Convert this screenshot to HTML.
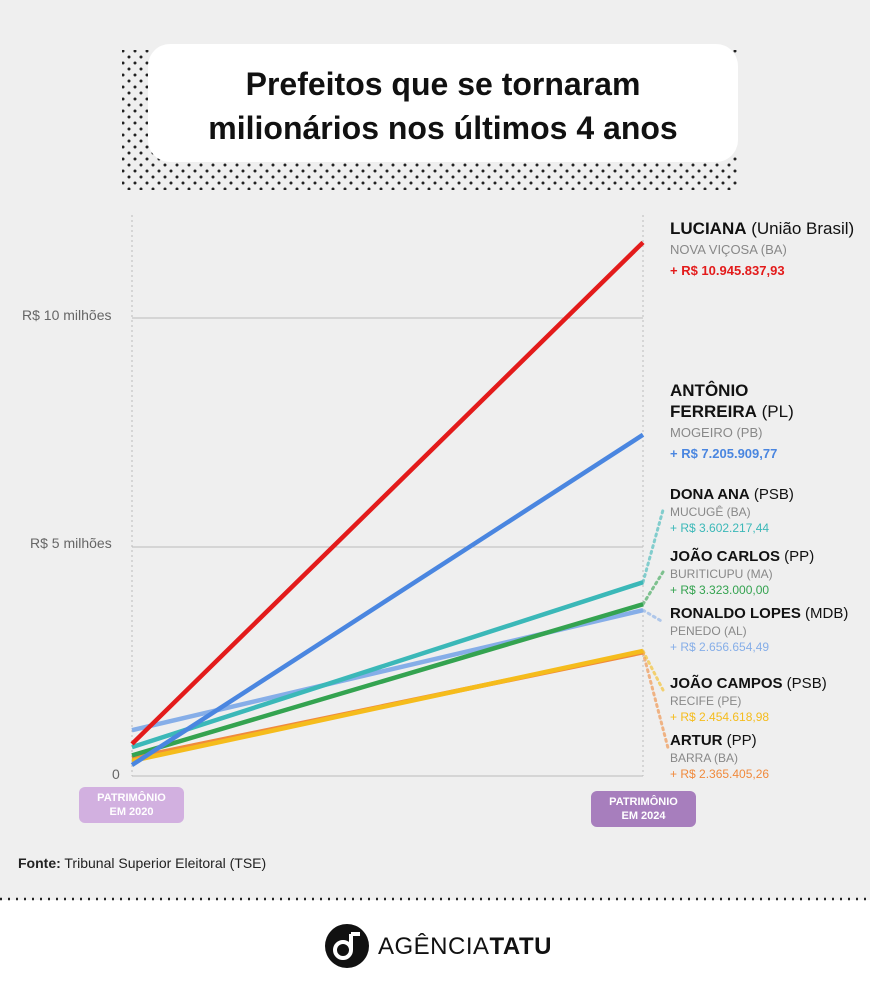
<!DOCTYPE html>
<html><head><meta charset="utf-8"><style>
body{margin:0;width:870px;height:1000px;background:#efefef;font-family:"Liberation Sans",sans-serif;overflow:hidden;position:relative}
.t{position:absolute;white-space:nowrap}
</style></head><body>
<svg width="870" height="1000" style="position:absolute;left:0;top:0">
<defs><pattern id="dots" width="12" height="12" patternUnits="userSpaceOnUse"><circle cx="3" cy="3" r="1.5" fill="#222"/><circle cx="9" cy="9" r="1.5" fill="#222"/></pattern></defs>
<rect x="122" y="50" width="615" height="140" fill="url(#dots)"/>
<rect x="148" y="44" width="590" height="118" rx="22" fill="#fff"/>
<rect x="0" y="900" width="870" height="100" fill="#fff"/>
<line x1="0" y1="899" x2="870" y2="899" stroke="#222" stroke-width="2.5" stroke-dasharray="2 6"/>
<g id="plot"></g>
<circle cx="347" cy="946" r="22" fill="#111"/>
<circle cx="343" cy="950" r="8" fill="none" stroke="#fff" stroke-width="4"/>
<path d="M351 950 V934 M351 934 H360" stroke="#fff" stroke-width="4" fill="none"/>
</svg>
<div class="t" style="left:148px;top:62px;width:590px;text-align:center;font-size:32px;font-weight:bold;line-height:44px;color:#111">Prefeitos que se tornaram<br>milionários nos últimos 4 anos</div>
<div class="t" style="left:22px;top:307px;font-size:14px;color:#666">R$ 10 milhões</div>
<div class="t" style="left:30px;top:535px;font-size:14px;color:#666">R$ 5 milhões</div>
<div class="t" style="left:112px;top:766px;font-size:14px;color:#666">0</div>
<div class="t" style="left:79px;top:787px;width:105px;height:36px;background:#d2b0e0;border-radius:6px;color:#fff;font-size:11px;font-weight:bold;text-align:center;line-height:14px;padding-top:4px;box-sizing:border-box">PATRIMÔNIO<br>EM 2020</div>
<div class="t" style="left:591px;top:791px;width:105px;height:36px;background:#a77ebd;border-radius:6px;color:#fff;font-size:11px;font-weight:bold;text-align:center;line-height:14px;padding-top:4px;box-sizing:border-box">PATRIMÔNIO<br>EM 2024</div>
<div class="t" style="left:18px;top:855px;font-size:14px;color:#222"><b>Fonte:</b> Tribunal Superior Eleitoral (TSE)</div>
<div class="t" style="left:378px;top:933px;font-size:24px;color:#111;letter-spacing:0.5px">AGÊNCIA<b>TATU</b></div>
<div id="labels"></div>
<script>
const names=["LUCIANA","ANTÔNIO<br>FERREIRA","DONA ANA","JOÃO CARLOS","RONALDO LOPES","JOÃO CAMPOS","ARTUR"];
const parties=["(União Brasil)","(PL)","(PSB)","(PP)","(MDB)","(PSB)","(PP)"];
const cities=["NOVA VIÇOSA (BA)","MOGEIRO (PB)","MUCUGÊ (BA)","BURITICUPU (MA)","PENEDO (AL)","RECIFE (PE)","BARRA (BA)"];
const gains=["+ R$ 10.945.837,93","+ R$ 7.205.909,77","+ R$ 3.602.217,44","+ R$ 3.323.000,00","+ R$ 2.656.654,49","+ R$ 2.454.618,98","+ R$ 2.365.405,26"];
const start2020=[0.70,0.24,0.63,0.45,1.00,0.33,0.39];
const end2024=[11.65,7.45,4.23,3.75,3.62,2.73,2.70];
const colors=["#e31b1b","#4a86e0","#3bb8b8","#34a350","#86aee8","#f5bc1c","#f08a3c"];
const labelTops=[218,380,486,548,605,675,732];
const y=v=>776-v*45.8, x0=132, x1=643;
const ns="http://www.w3.org/2000/svg", g=document.getElementById('plot');
function mk(t,a){const e=document.createElementNS(ns,t);for(const k in a)e.setAttribute(k,a[k]);g.appendChild(e);return e;}
[5,10].forEach(v=>{const l=mk('line',{x1:x0,x2:x1,y1:y(v),y2:y(v),stroke:'#bbb','stroke-width':1});

});
const ax=mk('line',{x1:x0,x2:x1,y1:y(0),y2:y(0),stroke:'#bbb','stroke-width':1});


[x0,x1].forEach(xx=>mk('line',{x1:xx,x2:xx,y1:215,y2:y(0),stroke:'#bbb','stroke-width':1,'stroke-dasharray':'2 3'}));
const lead=[null,null,[663,510],[663,572],[663,622],[663,690],[668,748]];
for(let i=names.length-1;i>=0;i--){
 if(lead[i]){const d=mk('line',{x1:x1,y1:y(end2024[i]),x2:lead[i][0],y2:lead[i][1],stroke:colors[i],'stroke-width':3,'stroke-dasharray':'2 4','stroke-linecap':'round',opacity:0.6});
 
 }
}
[6,5,4,3,2,1,0].forEach(i=>{const l=mk('line',{x1:x0,y1:y(start2020[i]),x2:x1,y2:y(end2024[i]),stroke:colors[i],'stroke-width':4.5});

});
const L=document.getElementById('labels');
names.forEach((n,i)=>{const big=i<2;const d=document.createElement('div');d.className='t';


d.style.cssText=`left:670px;top:${labelTops[i]}px;line-height:${big?21:16}px`;
d.innerHTML=`<div style="font-size:${big?17:15}px;color:#111;line-height:${big?21:18}px"><b>${n}</b> ${parties[i]}</div><div style="font-size:${big?13:12}px;color:#888">${cities[i]}</div><div style="font-size:${big?13:12}px;color:${colors[i]};font-weight:${big?'bold':'normal'}">${gains[i]}</div>`;
L.appendChild(d);});
</script>
</body></html>
